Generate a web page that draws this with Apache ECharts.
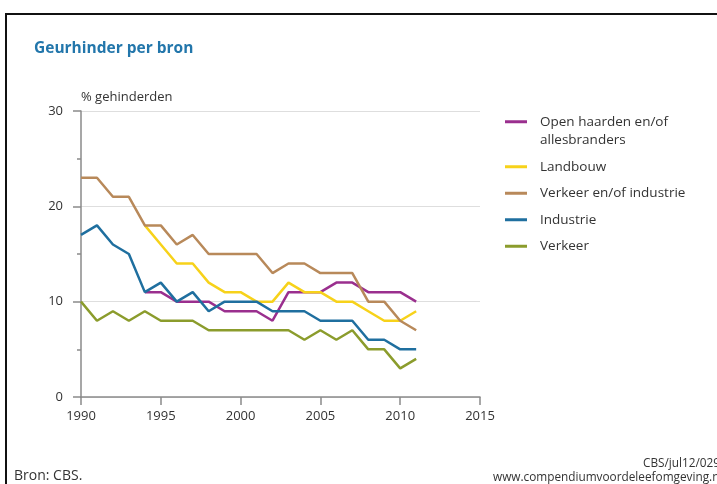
<!DOCTYPE html>
<html>
<head>
<meta charset="utf-8">
<title>Geurhinder per bron</title>
<script src="https://cdn.jsdelivr.net/npm/echarts@6/dist/echarts.min.js"></script>
<style>
  html, body { margin: 0; padding: 0; background: #fff; }
  #chart { width: 717px; height: 484px; }
</style>
</head>
<body>
<div id="chart"></div>
<script>
// jaren 1990 t/m 2011
var years = [1990, 1991, 1992, 1993, 1994, 1995, 1996, 1997, 1998, 1999, 2000,
             2001, 2002, 2003, 2004, 2005, 2006, 2007, 2008, 2009, 2010, 2011];

// % gehinderden per bron (null = geen meting)
var openHaarden = [null, null, null, null, 11, 11, 10, 10, 10, 9, 9,
                   9, 8, 11, 11, 11, 12, 12, 11, 11, 11, 10];
var landbouw = [null, null, null, null, 18, 16, 14, 14, 12, 11, 11,
                10, 10, 12, 11, 11, 10, 10, 9, 8, 8, 9];
var verkeerIndustrie = [23, 23, 21, 21, 18, 18, 16, 17, 15, 15, 15,
                        15, 13, 14, 14, 13, 13, 13, 10, 10, 8, 7];
var industrie = [17, 18, 16, 15, 11, 12, 10, 11, 9, 10, 10,
                 10, 9, 9, 9, 8, 8, 8, 6, 6, 5, 5];
var verkeer = [10, 8, 9, 8, 9, 8, 8, 8, 7, 7, 7,
               7, 7, 7, 6, 7, 6, 7, 5, 5, 3, 4];

var seriesNames = ["Open haarden en/of\nallesbranders", "Landbouw",
                   "Verkeer en/of industrie", "Industrie", "Verkeer"];
var seriesColors = ["#9a2f8e", "#f7d21a", "#b8895a", "#1f6f9f", "#8b9c2c"];
var seriesValues = [openHaarden, landbouw, verkeerIndustrie, industrie, verkeer];

var fontFam = "'Open Sans', sans-serif";

function toPairs(vals) {
  var out = [];
  for (var i = 0; i < years.length; i++) {
    if (vals[i] != null) out.push([years[i], vals[i]]);
  }
  return out;
}

var chart = echarts.init(document.getElementById("chart"));

var series = [];
for (var i = 0; i < seriesNames.length; i++) {
  series.push({
    name: seriesNames[i],
    type: "line",
    showSymbol: false,
    symbol: "none",
    lineStyle: { width: 2.5, color: seriesColors[i] },
    itemStyle: { color: seriesColors[i] },
    data: toPairs(seriesValues[i])
  });
}

var option = {
  animation: false,
  textStyle: { fontFamily: fontFam },
  grid: { left: 81, right: 237, top: 111, bottom: 87 },
  legend: {
    orient: "vertical",
    left: 505,
    top: 94,
    padding: 0,
    itemGap: 8,
    itemWidth: 22,
    itemHeight: 3,
    icon: "rect",
    textStyle: { fontSize: 13.5, color: "#333", lineHeight: 18.5, fontFamily: fontFam, padding: [0, 0, 0, 8] },
    // lege eerste regel zodat het lijntje bij de eerste tekstregel staat
    formatter: function (name) {
      return name.indexOf("\n") >= 0 ? "\n" + name : name;
    },
    data: seriesNames
  },
  xAxis: {
    type: "value",
    min: 1990,
    max: 2015,
    interval: 5,
    axisLine: { lineStyle: { color: "#8a8a8a", width: 1.5 } },
    axisTick: { length: 8, lineStyle: { color: "#8a8a8a", width: 1.5 } },
    splitLine: { show: false },
    axisLabel: {
      margin: 13, fontSize: 13, color: "#333",
      formatter: function (v) { return String(v); }
    }
  },
  yAxis: {
    type: "value",
    min: 0,
    max: 30,
    interval: 10,
    name: "% gehinderden",
    nameLocation: "end",
    nameGap: 7,
    nameTextStyle: { align: "left", fontSize: 13, color: "#333" },
    axisLine: { show: true, lineStyle: { color: "#8a8a8a", width: 1.5 } },
    axisTick: { show: true, length: 8, lineStyle: { color: "#8a8a8a", width: 1.5 } },
    minorTick: { show: true, splitNumber: 2, length: 4, lineStyle: { color: "#8a8a8a", width: 1.5 } },
    splitLine: { show: true, lineStyle: { color: "#dedede", width: 1 } },
    axisLabel: { margin: 18, fontSize: 13, color: "#333" }
  },
  graphic: [
    {
      type: "rect",
      shape: { x: 6, y: 14, width: 800, height: 600 },
      style: { fill: "none", stroke: "#111", lineWidth: 2 },
      silent: true
    },
    {
      type: "text",
      left: 34,
      top: 41,
      style: { text: "Geurhinder per bron", fill: "#2276ab", font: "bold 15.5px " + fontFam }
    },
    {
      type: "text",
      left: 14,
      top: 469,
      style: { text: "Bron: CBS.", fill: "#333", font: "14px " + fontFam }
    },
    {
      type: "text",
      left: 643,
      top: 458,
      style: { text: "CBS/jul12/0290", fill: "#333", font: "11.8px " + fontFam }
    },
    {
      type: "text",
      left: 493,
      top: 472,
      style: { text: "www.compendiumvoordeleefomgeving.nl", fill: "#333", font: "11.8px " + fontFam }
    }
  ],
  series: series
};

chart.setOption(option);
window.addEventListener("resize", function () {
  chart.resize();
});
</script>
</body>
</html>
